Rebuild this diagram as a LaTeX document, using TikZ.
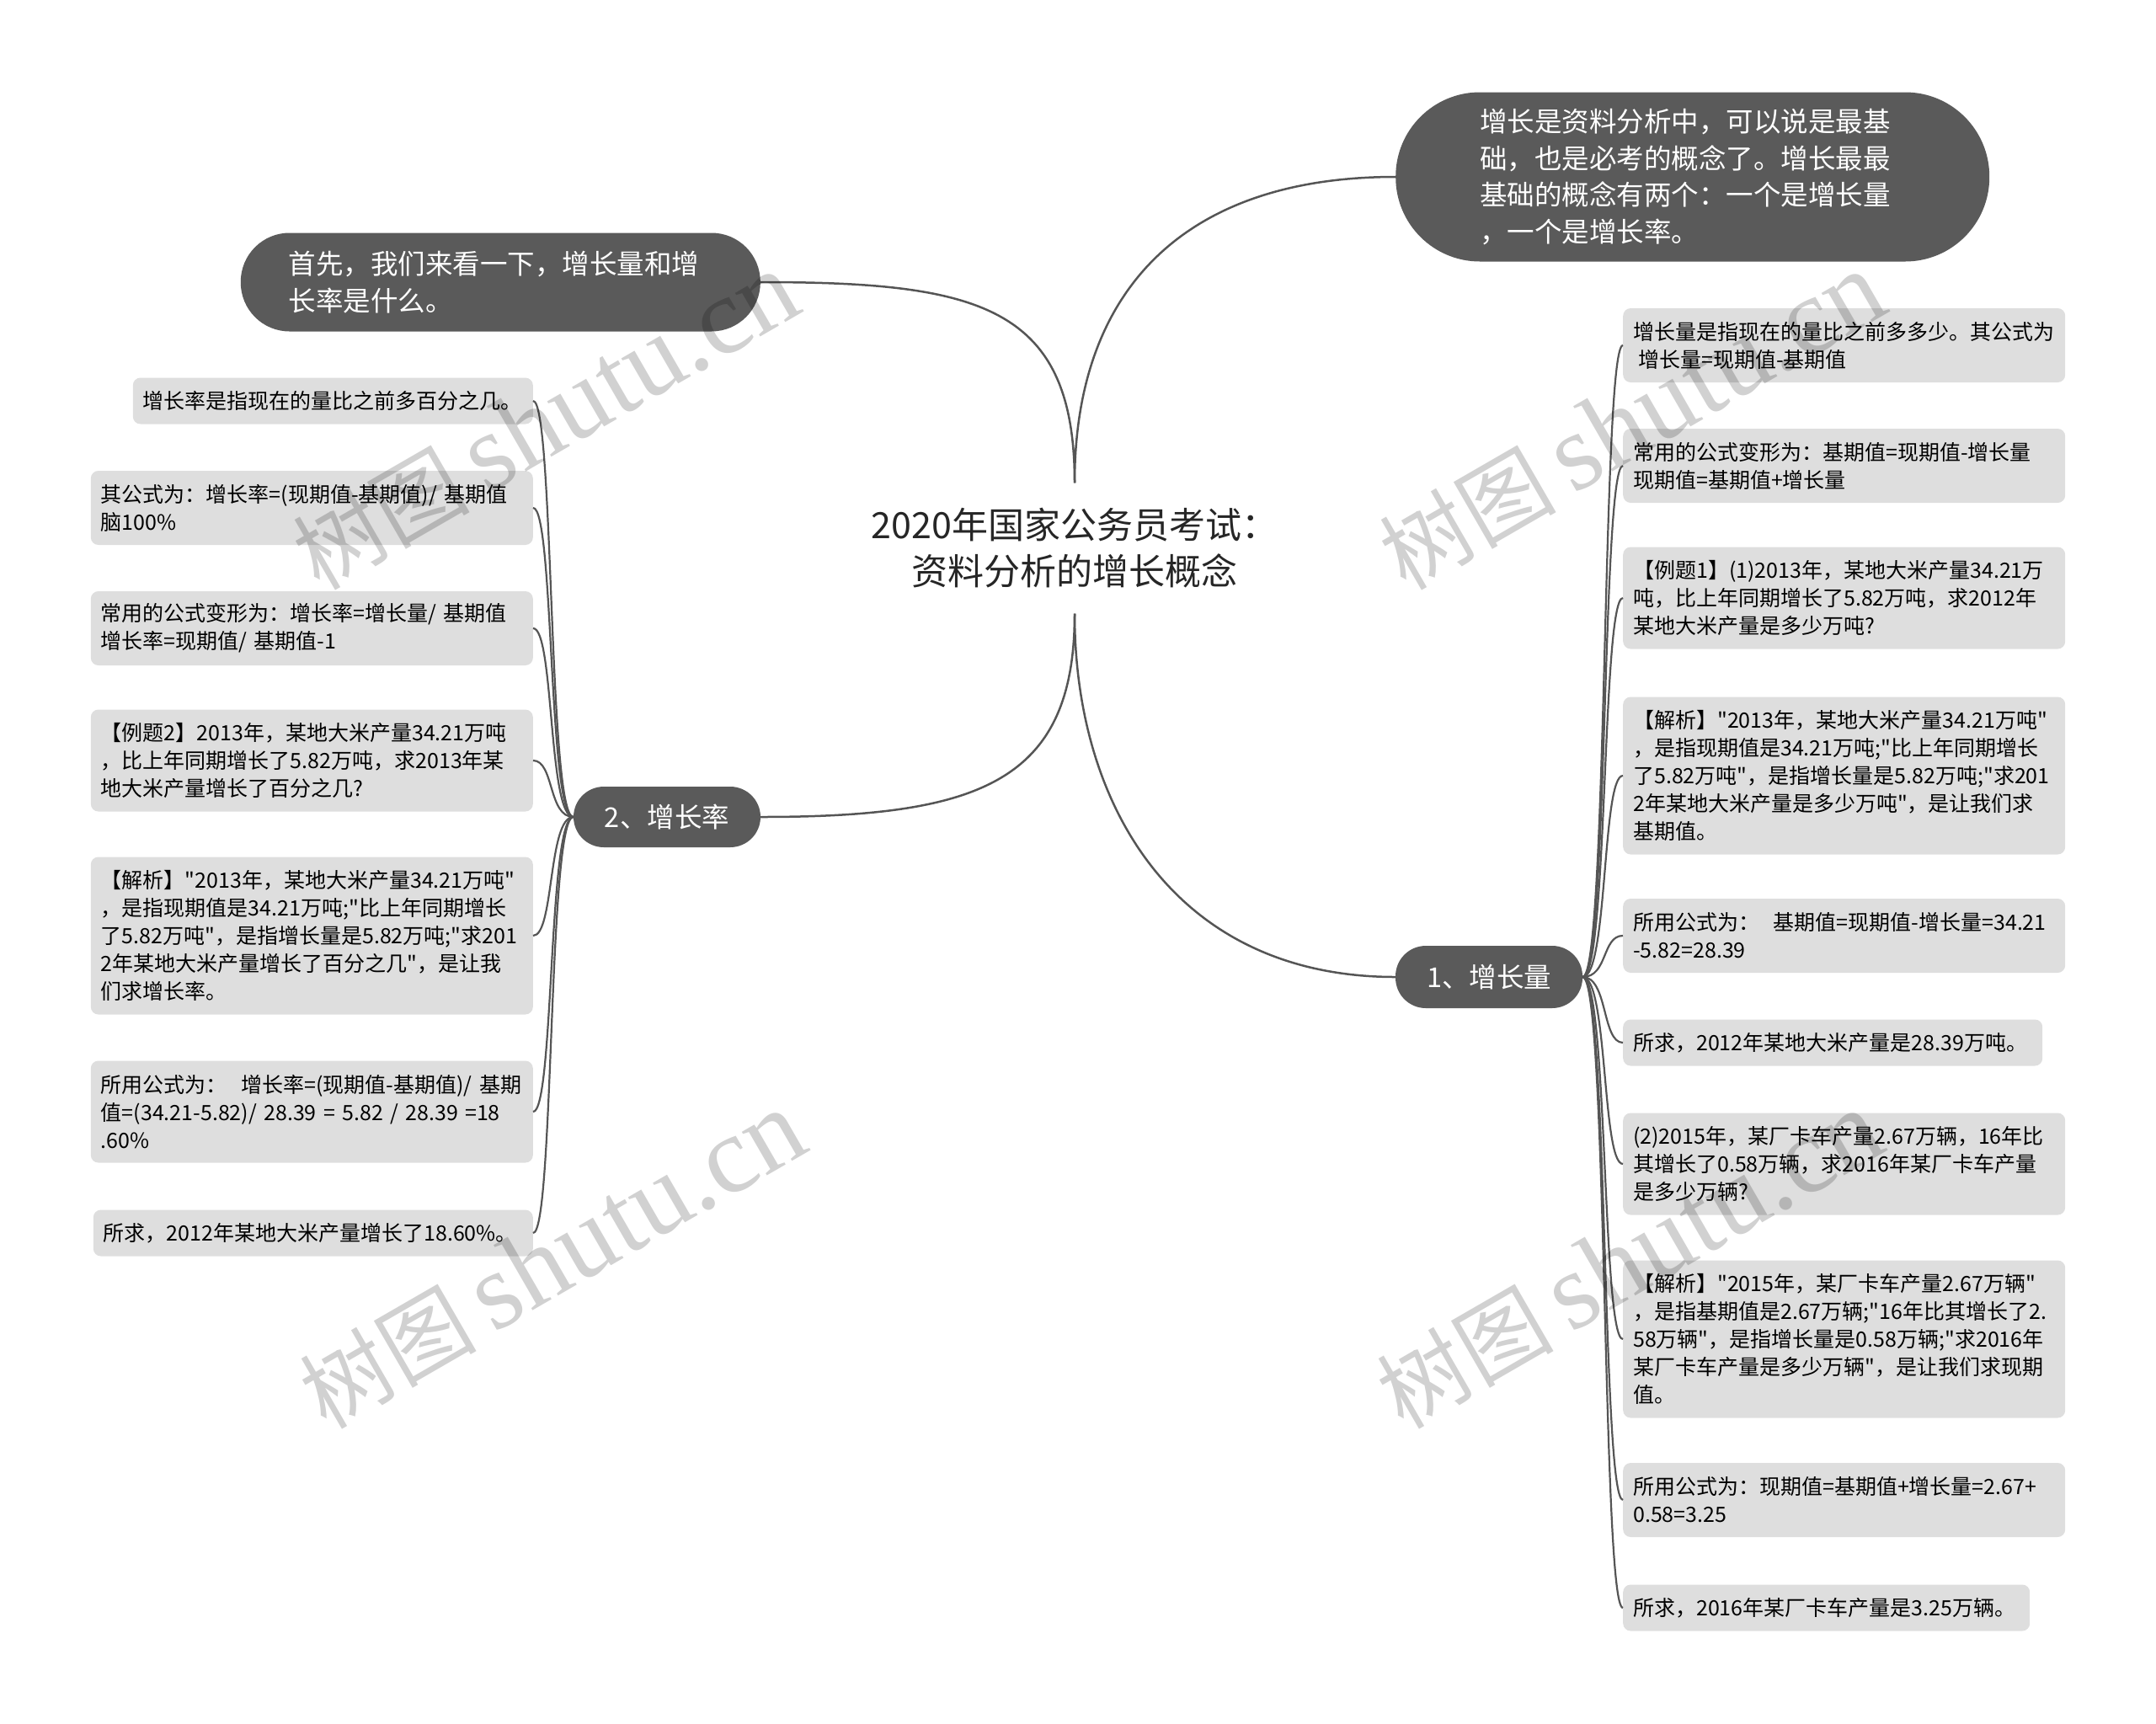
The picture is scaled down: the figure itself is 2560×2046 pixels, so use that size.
\documentclass[tikz,border=0pt]{standalone}
\usepackage{fontspec}
\setmainfont{Noto Sans CJK SC}[Ligatures=TeXOff]
\newfontfamily\wmfont{Liberation Serif}
\usetikzlibrary{calc,positioning}
\definecolor{branchgray}{HTML}{5A5A5A}
\definecolor{leafgray}{HTML}{DEDEDE}
\definecolor{linegray}{HTML}{555555}

\begin{document}
\begin{tikzpicture}[
    x=1pt, y=-1pt,
    every node/.style={font=\fontsize{25}{33}\selectfont},
    leaf/.style={fill=leafgray, rounded corners=9pt, text width=501pt,
        align=left, inner xsep=12pt, inner ysep=2pt,
        minimum height={22pt+33pt*#1}},
    branch/.style={fill=branchgray, text=white,
        font=\fontsize{32.5}{43.5}\selectfont, inner ysep=2pt},
    link/.style={draw=linegray, line width=2.5pt},
    twig/.style={draw=linegray, line width=2.2pt},
    wm/.style={text=black, text opacity=0.18, rotate=30}
]
\useasboundingbox (0,0) rectangle (2560,2046);

% Title
\node[font=\fontsize{43}{55}\selectfont, text=black!85, align=center,
      inner ysep=30pt] (Title) at (1276,651)
    {2020年国家公务员考试：\\资料分析的增长概念};

% Main branches
\node[branch, rounded corners=100pt, text width=505pt, inner xsep=100pt,
      minimum height=201pt, align=left, anchor=west] (First) at (1657,210)
    {增长是资料分析中，可以说是最基\\础，也是必考的概念了。增长最最\\基础的概念有两个：一个是增长量\\，一个是增长率。};
\node[branch, rounded corners=58pt, text width=503pt, inner xsep=57pt,
      minimum height=117pt, align=left, anchor=east] (Intro) at (903,335)
    {首先，我们来看一下，增长量和增\\长率是什么。};
\node[branch, rounded corners=36pt, minimum width=222pt,
      minimum height=72pt] (Rate) at (792,970) {2、增长率};
\node[branch, rounded corners=36pt, minimum width=222pt,
      minimum height=74pt] (Amt) at (1768,1160) {1、增长量};

% Leaves of 2、增长率
\node[leaf=1, text width=451pt, anchor=east] (R1) at (633,476)
    {增长率是指现在的量比之前多百分之几。};
\node[leaf=2, anchor=east] (R2) at (633,603)
    {其公式为：增长率=(现期值-基期值)/~基期值\\脑100\%};
\node[leaf=2, anchor=east] (R3) at (633,746)
    {常用的公式变形为：增长率=增长量/~基期值\\增长率=现期值/~基期值-1};
\node[leaf=3, anchor=east] (R4) at (633,903)
    {【例题2】2013年，某地大米产量34.21万吨\\，比上年同期增长了5.82万吨，求2013年某\\地大米产量增长了百分之几?};
\node[leaf=5, anchor=east] (R5) at (633,1111)
    {【解析】"2013年，某地大米产量34.21万吨"\\，是指现期值是34.21万吨;"比上年同期增长\\了5.82万吨"，是指增长量是5.82万吨;"求201\\2年某地大米产量增长了百分之几"，是让我\\们求增长率。};
\node[leaf=3, anchor=east] (R6) at (633,1320)
    {所用公式为：~~增长率=(现期值-基期值)/~基期\\值=(34.21-5.82)/~28.39~=~5.82~/~28.39~=18\\.60\%};
\node[leaf=1, text width=498pt, anchor=east] (R7) at (633,1464)
    {所求，2012年某地大米产量增长了18.60\%。};

% Leaves of 1、增长量
\node[leaf=2, anchor=west] (A1) at (1927,410)
    {增长量是指现在的量比之前多多少。其公式为\\\hspace{6pt}增长量=现期值-基期值};
\node[leaf=2, anchor=west] (A2) at (1927,553)
    {常用的公式变形为：基期值=现期值-增长量\\现期值=基期值+增长量};
\node[leaf=3, anchor=west] (A3) at (1927,710)
    {【例题1】(1)2013年，某地大米产量34.21万\\吨，比上年同期增长了5.82万吨，求2012年\\某地大米产量是多少万吨?};
\node[leaf=5, anchor=west] (A4) at (1927,921)
    {【解析】"2013年，某地大米产量34.21万吨"\\，是指现期值是34.21万吨;"比上年同期增长\\了5.82万吨"，是指增长量是5.82万吨;"求201\\2年某地大米产量是多少万吨"，是让我们求\\基期值。};
\node[leaf=2, anchor=west] (A5) at (1927,1111)
    {所用公式为：~~基期值=现期值-增长量=34.21\\-5.82=28.39};
\node[leaf=1, text width=474pt, anchor=west] (A6) at (1927,1238)
    {所求，2012年某地大米产量是28.39万吨。};
\node[leaf=3, anchor=west] (A7) at (1927,1382)
    {(2)2015年，某厂卡车产量2.67万辆，16年比\\其增长了0.58万辆，求2016年某厂卡车产量\\是多少万辆?};
\node[leaf=5, anchor=west] (A8) at (1927,1590)
    {【解析】"2015年，某厂卡车产量2.67万辆"\\，是指基期值是2.67万辆;"16年比其增长了2.\\58万辆"，是指增长量是0.58万辆;"求2016年\\某厂卡车产量是多少万辆"，是让我们求现期\\值。};
\node[leaf=2, anchor=west] (A9) at (1927,1781)
    {所用公式为：现期值=基期值+增长量=2.67+\\0.58=3.25};
\node[leaf=1, text width=459pt, anchor=west] (A10) at (1927,1909)
    {所求，2016年某厂卡车产量是3.25万辆。};

% Title to main branches
\draw[link] (Title.north) .. controls +(0,-210) and +(260,0) .. (Intro.east);
\draw[link] (Title.north) .. controls +(0,-230) and +(-250,0) .. (First.west);
\draw[link] (Title.south) .. controls +(0,200) and +(260,0) .. (Rate.east);
\draw[link] (Title.south) .. controls +(0,230) and +(-260,0) .. (Amt.west);

% Branches to leaves
\foreach \i in {1,...,7}
    \draw[twig] (Rate.west) .. controls +(-30,0) and +(25,0) .. (R\i.east);
\foreach \i in {1,...,10}
    \draw[twig] (Amt.east) .. controls +(30,0) and +(-25,0) .. (A\i.west);

% Watermarks
\foreach \x/\y [count=\k] in {648/500, 656/1496, 1938/500, 1935/1496}
    \node[wm] (W\k) at (\x,\y)
        {{\fontsize{105}{105}\selectfont 树图}\hspace{20pt}{\wmfont\fontsize{130}{130}\selectfont shutu.cn}};

\end{tikzpicture}
\end{document}
